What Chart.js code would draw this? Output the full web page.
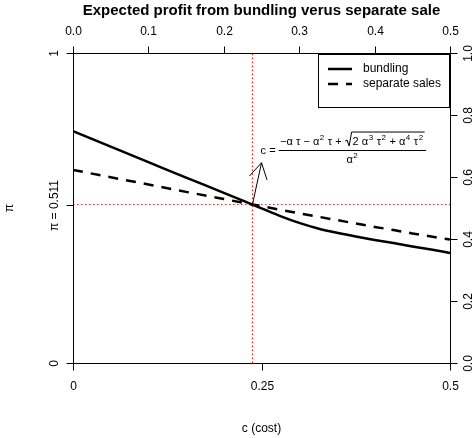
<!DOCTYPE html>
<html>
<head>
<meta charset="utf-8">
<script src="https://cdn.jsdelivr.net/npm/chart.js@4.4.1/dist/chart.umd.min.js"></script>
<style>
  html, body { margin: 0; padding: 0; background: #fff; }
  #wrap { width: 476px; height: 438px; }
</style>
</head>
<body>
<div id="wrap"><canvas id="profitChart" width="476" height="438"></canvas></div>
<script>
// values
const costs      = [0, 0.05, 0.1, 0.15, 0.2, 0.238, 0.25, 0.275, 0.3, 0.325, 0.35, 0.375, 0.4, 0.425, 0.45, 0.475, 0.5];
const bundling   = [0.748, 0.698, 0.648, 0.598, 0.549, 0.511, 0.499, 0.474, 0.452, 0.434, 0.420, 0.408, 0.397, 0.387, 0.376, 0.366, 0.355];
const separate   = [0.623, 0.599, 0.576, 0.552, 0.529, 0.511, 0.506, 0.494, 0.483, 0.472, 0.461, 0.450, 0.439, 0.429, 0.418, 0.408, 0.398];
const seriesNames = ['bundling', 'separate sales'];

const cutCost = 0.238;
const cutProfit = 0.511;

const bottomTicks  = [0, 0.25, 0.5];
const bottomLabels = ['0', '0.25', '0.5'];
const topTicks     = [0, 0.1, 0.2, 0.3, 0.4, 0.5];
const topLabels    = ['0.0', '0.1', '0.2', '0.3', '0.4', '0.5'];
const leftTicks    = [0, cutProfit, 1];
const leftLabels   = ['0', 'π = 0.511', '1'];
const rightTicks   = [0, 0.2, 0.4, 0.6, 0.8, 1];
const rightLabels  = ['0.0', '0.2', '0.4', '0.6', '0.8', '1.0'];

const FONT = '"Liberation Sans", Arial, Helvetica, sans-serif';

function pts(xs, ys) { return xs.map((x, i) => ({ x: x, y: ys[i] })); }

// numerator of the annotation, plotmath style
const numerator = [
  { t: '\u2212\u03b1 \u03c4 \u2212 \u03b1' }, { s: '2' }, { t: ' \u03c4 + ' },
  { rad: 'open' },
  { t: '2 \u03b1' }, { s: '3' }, { t: ' \u03c4' }, { s: '2' }, { t: ' + \u03b1' }, { s: '4' }, { t: ' \u03c4' }, { s: '2' },
  { rad: 'close' }
];

function mathRun(ctx, parts, x0, base, draw) {
  let x = x0, radStart = 0;
  parts.forEach(p => {
    if (p.t) {
      ctx.font = '11px ' + FONT;
      if (draw) ctx.fillText(p.t, x, base);
      x += ctx.measureText(p.t).width;
    } else if (p.s) {
      ctx.font = '8px ' + FONT;
      if (draw) ctx.fillText(p.s, x + 0.5, base - 5);
      x += ctx.measureText(p.s).width + 1;
    } else if (p.rad === 'open') {
      radStart = x;
      x += 8;
    } else if (p.rad === 'close') {
      if (draw) {
        const top = base - 13;
        ctx.beginPath();
        ctx.moveTo(radStart + 0.5, base - 4);
        ctx.lineTo(radStart + 2.5, base - 5);
        ctx.lineTo(radStart + 4.5, base + 1);
        ctx.lineTo(radStart + 7, top);
        ctx.lineTo(x + 1, top);
        ctx.stroke();
      }
      x += 1;
    }
  });
  return x - x0;
}

const rAxes = {
  id: 'rAxes',
  afterDraw(chart) {
    const { ctx, chartArea: a, scales: { x, y } } = chart;
    const T = 7;
    const h = v => Math.round(v) + 0.5;
    const line = (x1, y1, x2, y2) => { ctx.beginPath(); ctx.moveTo(x1, y1); ctx.lineTo(x2, y2); ctx.stroke(); };
    const vtext = (s, px, py) => {
      ctx.save(); ctx.translate(px, py); ctx.rotate(-Math.PI / 2);
      ctx.fillText(s, 0, 0); ctx.restore();
    };
    ctx.save();
    ctx.strokeStyle = '#000';
    ctx.fillStyle = '#000';
    ctx.lineWidth = 1;

    const L = h(a.left), R = h(a.right), Tp = h(a.top), B = h(a.bottom);
    // axis lines
    line(L, Tp, R, Tp);
    line(L, B, R, B);
    line(L, Tp, L, B);
    line(R, Tp, R, B);

    ctx.font = '12px ' + FONT;
    ctx.textAlign = 'center';
    ctx.textBaseline = 'middle';

    bottomTicks.forEach((v, i) => {
      const px = h(x.getPixelForValue(v));
      line(px, B, px, B + T);
      ctx.fillText(bottomLabels[i], px, 387);
    });
    topTicks.forEach((v, i) => {
      const px = h(x.getPixelForValue(v));
      line(px, Tp, px, Tp - T);
      ctx.fillText(topLabels[i], px, 32);
    });
    leftTicks.forEach((v, i) => {
      const py = h(y.getPixelForValue(v));
      line(L, py, L - T, py);
      vtext(leftLabels[i], 55, py);
    });
    rightTicks.forEach((v, i) => {
      const py = h(y.getPixelForValue(v));
      line(R, py, R + T, py);
      vtext(rightLabels[i], 469, py);
    });

    // axis titles and main title
    ctx.fillText('c (cost)', (a.left + a.right) / 2, 429);
    vtext('\u03c0', 10, 208);
    ctx.font = 'bold 15px ' + FONT;
    ctx.fillText('Expected profit from bundling verus separate sale', (a.left + a.right) / 2, 11);

    // legend
    ctx.lineWidth = 1;
    ctx.strokeRect(318.5, 54.5, 131, 53);
    ctx.lineWidth = 2.5;
    line(328, 69, 352, 69);
    ctx.setLineDash([10, 8]);
    line(328, 84, 352, 84);
    ctx.setLineDash([]);
    ctx.font = '12px ' + FONT;
    ctx.textAlign = 'left';
    ctx.fillText(seriesNames[0], 363, 69);
    ctx.fillText(seriesNames[1], 363, 84);

    // arrow from the crossing point up to the formula
    ctx.lineWidth = 1;
    const x0 = x.getPixelForValue(cutCost), y0 = y.getPixelForValue(cutProfit);
    const x1 = x.getPixelForValue(0.25), y1 = y.getPixelForValue(0.646);
    line(x0, y0, x1, y1);
    const ang = Math.atan2(y0 - y1, x0 - x1);
    [-Math.PI / 6, Math.PI / 6].forEach(d => {
      line(x1, y1, x1 + 18 * Math.cos(ang + d), y1 + 18 * Math.sin(ang + d));
    });

    // formula c = (...)/alpha^2
    ctx.textBaseline = 'alphabetic';
    const cx = x.getPixelForValue(0.3586), cy = y.getPixelForValue(0.687);
    const numW = mathRun(ctx, numerator, 0, 0, false);
    const barW = numW + 3;
    ctx.font = '11px ' + FONT;
    const lhs = 'c = ';
    const lhsW = ctx.measureText(lhs).width;
    const left = cx - (lhsW + barW) / 2;
    ctx.fillText(lhs, left, cy + 4);
    const barL = left + lhsW;
    line(barL, h(cy), barL + barW, h(cy));
    mathRun(ctx, numerator, barL + 1.5, cy - 5, true);
    const den = [{ t: '\u03b1' }, { s: '2' }];
    const denW = mathRun(ctx, den, 0, 0, false);
    mathRun(ctx, den, barL + (barW - denW) / 2, cy + 13, true);

    ctx.restore();
  }
};

new Chart(document.getElementById('profitChart'), {
  type: 'line',
  data: {
    datasets: [
      { label: seriesNames[0], data: pts(costs, bundling), borderColor: '#000', borderWidth: 2.5, pointRadius: 0, cubicInterpolationMode: 'monotone' },
      { label: seriesNames[1], data: pts(costs, separate), borderColor: '#000', borderWidth: 2.5, borderDash: [10, 8], pointRadius: 0, tension: 0 },
      { label: 'c cut', data: [{ x: cutCost, y: 0 }, { x: cutCost, y: 1 }], borderColor: '#ff0000', borderWidth: 1, borderDash: [1.5, 2.5], pointRadius: 0 },
      { label: 'pi cut', data: [{ x: 0, y: cutProfit }, { x: 0.5, y: cutProfit }], borderColor: '#ff0000', borderWidth: 1, borderDash: [1.5, 2.5], pointRadius: 0 }
    ]
  },
  options: {
    responsive: false,
    animation: false,
    devicePixelRatio: 1,
    layout: { padding: { left: 73, top: 53, right: 26, bottom: 75 } },
    scales: {
      x: { type: 'linear', min: 0, max: 0.5, display: false },
      y: { type: 'linear', min: 0, max: 1, display: false }
    },
    plugins: { legend: { display: false }, tooltip: { enabled: false } }
  },
  plugins: [rAxes]
});
</script>
</body>
</html>
